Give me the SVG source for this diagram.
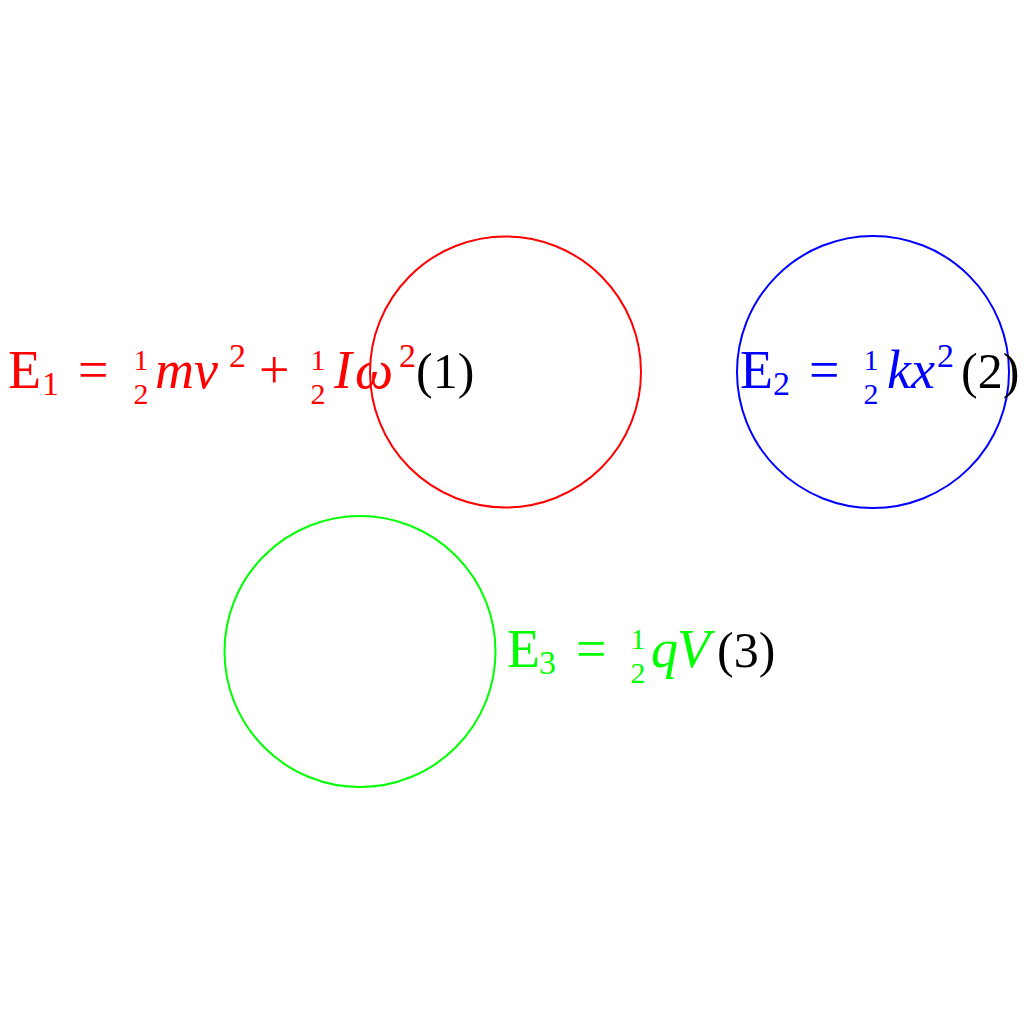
<svg xmlns="http://www.w3.org/2000/svg" width="1024" height="1024" viewBox="0 0 1024 1024">
<style>
  .c { fill: none; stroke-width: 2; }
  text { font-family: "Liberation Serif", "DejaVu Serif", serif; }
  .m { font-size: 54px; }
  .p { font-size: 50px; }
  .i { font-size: 54px; font-style: italic; }
  .s { font-size: 34px; }
  .f { font-size: 30px; text-anchor: middle; }
  .red { fill: #ff0000; }
  .blue { fill: #0000ff; }
  .green { fill: #00ff00; }
  .blk { fill: #000000; }
</style>
<rect width="1024" height="1024" fill="#ffffff"/>
<g id="connectors"></g>
<g id="node1">
  <circle class="c" cx="505.5" cy="372" r="135.5" stroke="#ff0000"/>
  <g class="red">
    <text class="m" x="8" y="388">E</text>
    <text class="s" x="42" y="395">1</text>
    <text class="m" x="78" y="388">=</text>
    <text class="f" x="141" y="370">1</text>
    <text class="f" x="141" y="404">2</text>
    <text class="i" x="155" y="388">m</text>
    <text class="i" x="194" y="388">v</text>
    <text class="s" x="229" y="367">2</text>
    <text class="m" x="259" y="388">+</text>
    <text class="f" x="318" y="370">1</text>
    <text class="f" x="318" y="404">2</text>
    <text class="i" x="334" y="388">I</text>
    <text class="i" x="355" y="388">ω</text>
    <text class="s" x="399" y="367">2</text>
  </g>
  <text class="p blk" x="416" y="388">(1)</text>
</g>
<g id="node2">
  <circle class="c" cx="873" cy="372" r="136" stroke="#0000ff"/>
  <g class="blue">
    <text class="m" x="740" y="388">E</text>
    <text class="s" x="773" y="395">2</text>
    <text class="m" x="809" y="388">=</text>
    <text class="f" x="871" y="370">1</text>
    <text class="f" x="871" y="404">2</text>
    <text class="i" x="887" y="388">k</text>
    <text class="i" x="911" y="388">x</text>
    <text class="s" x="937" y="367">2</text>
  </g>
  <text class="p blk" x="961" y="388">(2)</text>
</g>
<g id="node3">
  <circle class="c" cx="360" cy="651.5" r="135.5" stroke="#00ff00"/>
  <g class="green">
    <text class="m" x="507" y="667">E</text>
    <text class="s" x="539" y="674">3</text>
    <text class="m" x="576" y="667">=</text>
    <text class="f" x="638" y="649">1</text>
    <text class="f" x="638" y="683">2</text>
    <text class="i" x="651" y="667">q</text>
    <text class="i" x="677" y="667">V</text>
  </g>
  <text class="p blk" x="717" y="667">(3)</text>
</g>
</svg>
